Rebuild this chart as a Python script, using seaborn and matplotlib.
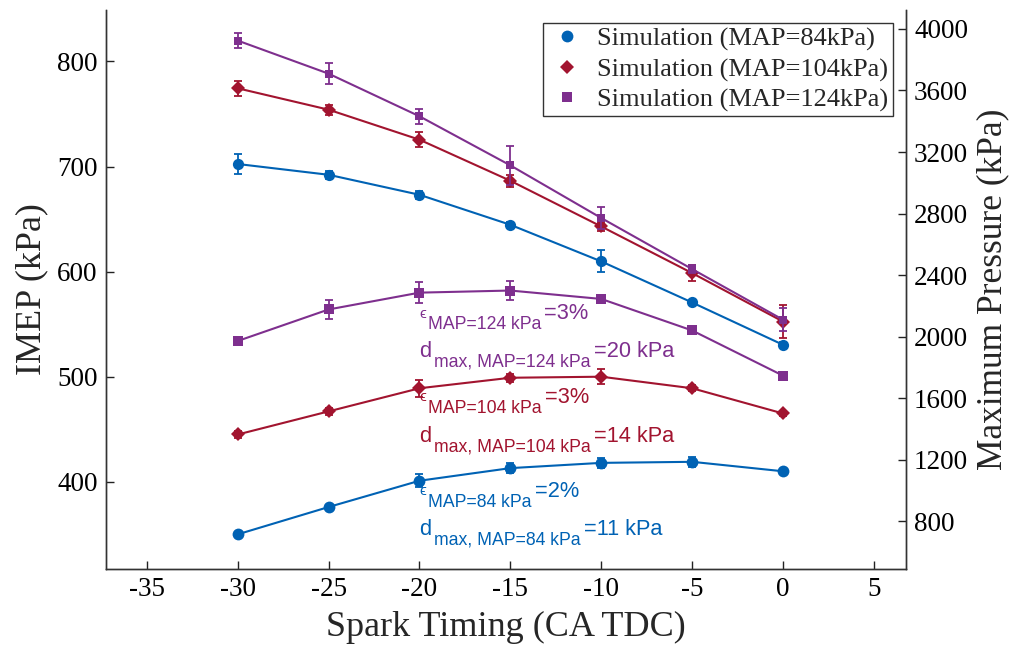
import numpy as np
import pandas as pd
import matplotlib
matplotlib.use("Agg")
import matplotlib.pyplot as plt
from matplotlib.lines import Line2D
import seaborn as sns

# ---------------- data ----------------
spark = [-30, -25, -20, -15, -10, -5, 0]
series = ["MAP=84kPa", "MAP=104kPa", "MAP=124kPa"]

# IMEP (left axis, kPa)
imep_84 = [350, 376, 401, 413, 418, 419, 410]
imep_104 = [445, 467, 489, 499, 500, 489, 465]
imep_124 = [534, 564, 580, 582, 574, 544, 501]
imep_err_84 = [2, 2, 6, 5, 5, 5, 2]
imep_err_104 = [3, 3, 8, 4, 7, 3, 2]
imep_err_124 = [2, 9, 10, 9, 2, 2, 2]

# Maximum pressure (right axis, kPa)
pmax_84 = [3122, 3052, 2922, 2727, 2489, 2222, 1947]
pmax_104 = [3614, 3475, 3280, 3013, 2716, 2413, 2098]
pmax_124 = [3924, 3709, 3432, 3113, 2771, 2439, 2110]
pmax_err_84 = [68, 26, 26, 20, 72, 15, 15]
pmax_err_104 = [47, 32, 49, 39, 32, 52, 105]
pmax_err_124 = [49, 68, 47, 125, 70, 25, 76]

legend_labels = ["Simulation (MAP=84kPa)", "Simulation (MAP=104kPa)", "Simulation (MAP=124kPa)"]
eps_values = ["=2%", "=3%", "=3%"]
dmax_values = ["=11 kPa", "=14 kPa", "=20 kPa"]
eps_subs = ["MAP=84 kPa", "MAP=104 kPa", "MAP=124 kPa"]
dmax_subs = ["max, MAP=84 kPa", "max, MAP=104 kPa", "max, MAP=124 kPa"]
# annotation anchor (x, IMEP baseline) for each series
eps_pos = [(-20, 385.7), (-20, 475.2), (-20, 555.0)]
dmax_pos = [(-20, 349.5), (-20, 438.0), (-20, 518.8)]

xticks = [-35, -30, -25, -20, -15, -10, -5, 0, 5]
left_ticks = [400, 500, 600, 700, 800]
right_ticks = [800, 1200, 1600, 2000, 2400, 2800, 3200, 3600, 4000]

# ---------------- style ----------------
colors = ["#0062B4", "#A2142F", "#7E2F8E"]
markers = ["o", "D", "s"]
msizes = [8.5, 7, 6.5]

sns.set_theme(style="white")
plt.rcParams["font.family"] = ["Liberation Serif", "DejaVu Serif"]

imep = [imep_84, imep_104, imep_124]
imep_err = [imep_err_84, imep_err_104, imep_err_124]
pmax = [pmax_84, pmax_104, pmax_124]
pmax_err = [pmax_err_84, pmax_err_104, pmax_err_124]

rows = []
for s, iv, pv in zip(series, imep, pmax):
    for x, a, b in zip(spark, iv, pv):
        rows.append({"spark": x, "series": s, "imep": a, "pmax": b})
df = pd.DataFrame(rows)

fig = plt.figure(figsize=(10.14, 6.52), dpi=100)
ax = fig.add_axes([0.1045, 0.1273, 0.7887, 0.8574])
ax2 = ax.twinx()

for i, s in enumerate(series):
    sub = df[df["series"] == s]
    sns.lineplot(data=sub, x="spark", y="imep", ax=ax, color=colors[i],
                 marker=markers[i], markersize=msizes[i], markeredgewidth=0,
                 linewidth=1.5, legend=False)
    ax.errorbar(spark, imep[i], yerr=imep_err[i], fmt="none", ecolor=colors[i],
                elinewidth=1.3, capsize=3, capthick=1.3)
    sns.lineplot(data=sub, x="spark", y="pmax", ax=ax2, color=colors[i],
                 marker=markers[i], markersize=msizes[i] * 0.95, markeredgewidth=0,
                 linewidth=1.5, legend=False)
    ax2.errorbar(spark, pmax[i], yerr=pmax_err[i], fmt="none", ecolor=colors[i],
                 elinewidth=1.3, capsize=3, capthick=1.3)

ax.set_xlim(-37.25, 6.75)
ax.set_ylim(317, 849)
ax2.set_ylim(490, 4123)
ax.set_xticks(xticks)
ax.set_xticklabels([str(t) for t in xticks])
ax.set_yticks(left_ticks)
ax2.set_yticks(right_ticks)

ax.set_ylabel("IMEP (kPa)", fontsize=26, labelpad=6)
ax2.set_ylabel("Maximum Pressure (kPa)", fontsize=25.5, labelpad=6)

for a in (ax, ax2):
    a.tick_params(direction="in", length=6, width=1, colors="#222222",
                  labelsize=19.5, labelcolor="black", pad=6)
    for side in ("left", "right", "bottom"):
        a.spines[side].set_visible(True)
        a.spines[side].set_color("#333333")
        a.spines[side].set_linewidth(1.0)
    a.spines["top"].set_visible(False)
ax.tick_params(axis="both", left=True, bottom=True)
ax2.tick_params(axis="y", right=True)
ax.set_xlabel("Spark Timing (CA TDC)", fontsize=26, labelpad=6)
ax2.set_xlabel("")

# annotations: main symbol, subscript, value
sans = ["Liberation Sans", "DejaVu Sans"]
MAIN, SUB = 15.7, 12.7
for i in range(3):
    for head, hsize, hoff, gap, subtxt, val, (x, y) in (
        ("\u03f5", 11, 1.0, 1.0, eps_subs[i], eps_values[i], eps_pos[i]),
        ("d", MAIN, 0.0, 1.5, dmax_subs[i], dmax_values[i], dmax_pos[i]),
    ):
        p1 = ax.annotate(head, xy=(x, y), xycoords="data", xytext=(0, hoff),
                         textcoords="offset points", color=colors[i],
                         fontsize=hsize, family=sans, ha="left", va="baseline")
        p2 = ax.annotate(subtxt, xy=(1, y), xycoords=(p1, "data"), xytext=(gap, -7.2),
                         textcoords="offset points", color=colors[i],
                         fontsize=SUB, family=sans, ha="left", va="baseline")
        ax.annotate(val, xy=(1, y), xycoords=(p2, "data"), xytext=(2.5, 0),
                    textcoords="offset points", color=colors[i],
                    fontsize=MAIN, family=sans, ha="left", va="baseline")

handles = [Line2D([], [], linestyle="none", marker=markers[i], color=colors[i],
                  markersize=msizes[i], markeredgewidth=0) for i in range(3)]
leg = ax2.legend(handles, legend_labels, loc="upper right", fontsize=19,
                 frameon=True, fancybox=False, edgecolor="black",
                 labelspacing=0.25, borderpad=0.15, handletextpad=0.4,
                 handlelength=1.5, borderaxespad=0.5)
leg.get_frame().set_linewidth(1.0)

fig.savefig("out.png", dpi=100)
